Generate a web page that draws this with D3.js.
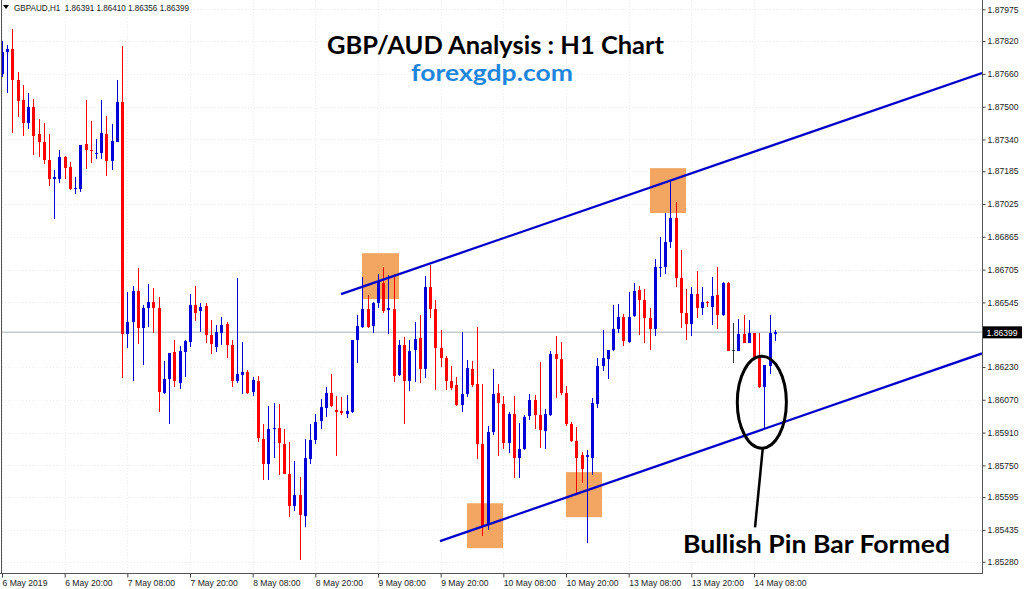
<!DOCTYPE html>
<html><head><meta charset="utf-8">
<script src="https://cdn.jsdelivr.net/npm/d3@7"></script>
<style>html,body{margin:0;padding:0;background:#fff;overflow:hidden}</style>
</head><body>
<svg id="c" width="1024" height="589"></svg>
<script>
// ---- data (GBPAUD H1, bar 0 = 6 May 2019 08:00) ----
const opens=[1.87659,1.87768,1.87781,1.87630,1.87532,1.87418,1.87499,1.87365,1.87327,1.87238,
1.87145,1.87148,1.87255,1.87206,1.87096,1.87096,1.87316,1.87291,1.87272,1.87272,
1.87368,1.87233,1.87329,1.87524,1.86390,1.86447,1.86600,1.86421,1.86516,1.86545,
1.86516,1.86101,1.86171,1.86302,1.86150,1.86301,1.86350,1.86532,1.86502,1.86527,
1.86385,1.86328,1.86396,1.86442,1.86336,1.86162,1.86193,1.86206,1.86106,1.86162,
1.85881,1.85759,1.85925,1.85933,1.85853,1.85707,1.85551,1.85603,1.85502,1.85780,
1.85873,1.85967,1.86032,1.86101,1.86019,1.86013,1.86003,1.86011,1.86361,1.86423,
1.86511,1.86429,1.86543,1.86640,1.86507,1.86511,1.86190,1.86336,1.86162,1.86315,
1.86369,1.86219,1.86621,1.86511,1.86325,1.86274,1.86162,1.86140,1.86044,1.86097,
1.86221,1.86146,1.85852,1.85458,1.85913,1.86101,1.86049,1.85860,1.86003,1.85788,
1.85832,1.85990,1.86071,1.85995,1.85918,1.85995,1.86291,1.86267,1.86104,1.85951,
1.85869,1.85800,1.85791,1.85786,1.86049,1.86234,1.86267,1.86312,1.86413,1.86472,
1.86353,1.86479,1.86605,1.86556,1.86467,1.86413,1.86712,1.86716,1.86838,1.86958,
1.86665,1.86491,1.86442,1.86585,1.86520,1.86545,1.86523,1.86580,1.86483,1.86638,
1.86312,1.86309,1.86390,1.86348,1.86398,1.86279,1.86133,1.86234,1.86391];
const highs=[1.87821,1.87800,1.87877,1.87667,1.87604,1.87565,1.87535,1.87438,1.87418,1.87365,
1.87189,1.87291,1.87259,1.87229,1.87158,1.87312,1.87532,1.87430,1.87343,1.87532,
1.87454,1.87413,1.87630,1.87796,1.86595,1.86624,1.86712,1.86532,1.86634,1.86613,
1.86572,1.86260,1.86299,1.86362,1.86332,1.86361,1.86585,1.86624,1.86540,1.86540,
1.86458,1.86434,1.86475,1.86450,1.86361,1.86662,1.86353,1.86214,1.86179,1.86185,
1.85951,1.86039,1.86052,1.86049,1.85925,1.85862,1.85772,1.85691,1.85881,1.85954,
1.86003,1.86076,1.86133,1.86198,1.86088,1.86084,1.86092,1.86364,1.86483,1.86667,
1.86580,1.86548,1.86686,1.86719,1.86678,1.86686,1.86361,1.86374,1.86364,1.86449,
1.86483,1.86673,1.86727,1.86559,1.86410,1.86283,1.86234,1.86182,1.86401,1.86263,
1.86260,1.86426,1.86146,1.85941,1.86219,1.86146,1.86088,1.86011,1.86088,1.85959,
1.85995,1.86096,1.86092,1.86255,1.86023,1.86307,1.86380,1.86353,1.86136,1.85962,
1.85938,1.85816,1.85824,1.86081,1.86272,1.86410,1.86315,1.86532,1.86537,1.86488,
1.86597,1.86638,1.86624,1.86608,1.86516,1.86755,1.86862,1.86979,1.87138,1.87036,
1.86803,1.86608,1.86621,1.86699,1.86621,1.86553,1.86667,1.86719,1.86645,1.86645,
1.86445,1.86462,1.86483,1.86458,1.86398,1.86394,1.86239,1.86486,1.86410];
const lows=[1.87646,1.87568,1.87372,1.87451,1.87358,1.87392,1.87265,1.87255,1.87220,1.87112,
1.86950,1.87128,1.87148,1.87093,1.87073,1.87086,1.87197,1.87226,1.87243,1.87246,
1.87161,1.87189,1.87329,1.86177,1.86325,1.86162,1.86341,1.86242,1.86426,1.86394,
1.86011,1.86097,1.85951,1.86133,1.86123,1.86179,1.86328,1.86455,1.86400,1.86348,
1.86291,1.86304,1.86338,1.86272,1.86133,1.86152,1.86097,1.86097,1.86088,1.85865,
1.85678,1.85681,1.85784,1.85702,1.85707,1.85499,1.85528,1.85287,1.85447,1.85756,
1.85853,1.85927,1.85984,1.86035,1.85795,1.85995,1.85979,1.86006,1.86250,1.86421,
1.86418,1.86396,1.86516,1.86491,1.86389,1.86157,1.86185,1.85951,1.86113,1.86157,
1.86150,1.86177,1.86467,1.86117,1.86231,1.86117,1.86117,1.86039,1.86011,1.86084,
1.86130,1.85779,1.85404,1.85437,1.85897,1.85795,1.85832,1.85808,1.85686,1.85686,
1.85824,1.85970,1.85925,1.85837,1.85832,1.85990,1.86081,1.86092,1.85941,1.85865,
1.85613,1.85664,1.85369,1.85702,1.86032,1.86211,1.86169,1.86309,1.86396,1.86333,
1.86348,1.86475,1.86385,1.86348,1.86315,1.86380,1.86667,1.86686,1.86810,1.86621,
1.86418,1.86361,1.86382,1.86467,1.86483,1.86523,1.86434,1.86413,1.86478,1.86307,
1.86247,1.86307,1.86345,1.86345,1.86272,1.86125,1.85930,1.86198,1.86356];
const closes=[1.87768,1.87781,1.87630,1.87527,1.87418,1.87499,1.87358,1.87327,1.87238,1.87145,
1.87155,1.87255,1.87202,1.87096,1.87101,1.87312,1.87288,1.87285,1.87275,1.87370,
1.87234,1.87332,1.87524,1.86390,1.86449,1.86601,1.86421,1.86516,1.86545,1.86518,
1.86106,1.86172,1.86299,1.86161,1.86307,1.86355,1.86532,1.86491,1.86522,1.86384,
1.86341,1.86401,1.86437,1.86335,1.86162,1.86195,1.86206,1.86101,1.86166,1.85884,
1.85759,1.85927,1.85933,1.85857,1.85710,1.85551,1.85604,1.85508,1.85786,1.85876,
1.85962,1.86035,1.86101,1.86040,1.86011,1.86006,1.86016,1.86364,1.86429,1.86511,
1.86426,1.86540,1.86645,1.86502,1.86516,1.86185,1.86336,1.86162,1.86309,1.86366,
1.86219,1.86621,1.86511,1.86325,1.86274,1.86162,1.86128,1.86044,1.86097,1.86226,
1.86141,1.85852,1.85450,1.85913,1.86096,1.86052,1.85860,1.86000,1.85788,1.85832,
1.85987,1.86071,1.85995,1.85922,1.86000,1.86291,1.86267,1.86104,1.85951,1.85869,
1.85784,1.85730,1.85800,1.86055,1.86237,1.86272,1.86315,1.86413,1.86472,1.86357,
1.86475,1.86601,1.86556,1.86467,1.86413,1.86719,1.86719,1.86838,1.86958,1.86665,
1.86491,1.86442,1.86584,1.86520,1.86548,1.86540,1.86576,1.86483,1.86638,1.86307,
1.86312,1.86390,1.86348,1.86398,1.86279,1.86133,1.86239,1.86396,1.86399];

const xTickIdx=[0,12,24,36,48,60,72,84,96,108,120,132,144];
const xTickLabels=["6 May 2019","6 May 20:00","7 May 08:00","7 May 20:00","8 May 08:00","8 May 20:00",
  "9 May 08:00","9 May 20:00","10 May 08:00","10 May 20:00","13 May 08:00","13 May 20:00","14 May 08:00"];
const yTicks=[1.87975,1.87820,1.87660,1.87500,1.87340,1.87185,1.87025,1.86865,1.86705,1.86545,
  1.86230,1.86070,1.85910,1.85750,1.85595,1.85435,1.85280];
const lastPrice=1.86399;
const headerText="GBPAUD,H1  1.86391 1.86410 1.86356 1.86399";
const titleText="GBP/AUD Analysis : H1 Chart";
const siteText="forexgdp.com";
const noteText="Bullish Pin Bar Formed";
// trend lines: [barIndex, price] pairs
const upperLine=[[64.92,1.86585],[187.66,1.87664]];
const lowerLine=[[83.87,1.85380],[187.66,1.86296]];
// highlight boxes: [fromBar, toBar, topPrice, bottomPrice]
const boxes=[[68.94,76.02,1.86785,1.86561],[124.09,130.98,1.87200,1.86981],
  [89.04,95.94,1.85565,1.85346],[108.0,114.9,1.85717,1.85497]];
// ellipse around pin bar: [centerBar, centerPrice, halfWidthBars, halfHeightPrice]
const pinEllipse=[145.5,1.86058,4.7,0.00224];
const pointer=[[145.7,1.85839],[144.2,1.85448]];

// ---- drawing ----
const svg=d3.select("#c");
const plotL=1.5, plotR=982, plotT=0, plotB=573;
const x=d3.scaleLinear().domain([0,144]).range([2,754]);
const y=d3.scaleLinear().domain([1.85280,1.87975]).range([561.7,9.3]);
const axisFont="'Liberation Sans', Arial, sans-serif";

svg.append("rect").attr("width",1024).attr("height",589).attr("fill","#fff");

svg.append("clipPath").attr("id","pc").append("rect")
  .attr("x",plotL).attr("y",plotT).attr("width",plotR-plotL).attr("height",plotB-plotT);

// faint grid
const grid=svg.append("g").attr("stroke","#ececec").attr("stroke-dasharray","1,2").attr("shape-rendering","crispEdges");
grid.selectAll("line.h").data(yTicks).join("line").attr("class","h")
  .attr("x1",plotL).attr("x2",plotR).attr("y1",d=>Math.round(y(d))+0.5).attr("y2",d=>Math.round(y(d))+0.5);
grid.selectAll("line.v").data(xTickIdx).join("line").attr("class","v")
  .attr("y1",plotT).attr("y2",plotB).attr("x1",d=>Math.round(x(d))+0.5).attr("x2",d=>Math.round(x(d))+0.5);

const plot=svg.append("g").attr("clip-path","url(#pc)");

// boxes
plot.selectAll("rect.box").data(boxes).join("rect").attr("class","box")
  .attr("x",d=>x(d[0])).attr("width",d=>x(d[1])-x(d[0]))
  .attr("y",d=>y(d[2])).attr("height",d=>y(d[3])-y(d[2]))
  .attr("fill","#f3a562");

// current price line
plot.append("line").attr("x1",plotL).attr("x2",plotR)
  .attr("y1",y(lastPrice)).attr("y2",y(lastPrice))
  .attr("stroke","#c4ccd2").attr("stroke-width",1.5);

// candles
const bars=d3.range(opens.length).map(i=>({i,o:opens[i],h:highs[i],l:lows[i],c:closes[i]}));
const col=d=>d.c>d.o?"#0000d8":(d.c<d.o?"#ff0000":"#333333");
const cg=plot.append("g").attr("shape-rendering","crispEdges");
cg.selectAll("line.wick").data(bars).join("line").attr("class","wick")
  .attr("x1",d=>Math.round(x(d.i))+0.5).attr("x2",d=>Math.round(x(d.i))+0.5)
  .attr("y1",d=>y(d.h)).attr("y2",d=>y(d.l)).attr("stroke",col).attr("stroke-width",1);
cg.selectAll("rect.body").data(bars).join("rect").attr("class","body")
  .attr("x",d=>Math.round(x(d.i))-1).attr("width",3)
  .attr("y",d=>y(Math.max(d.o,d.c)))
  .attr("height",d=>Math.max(1,Math.abs(y(d.o)-y(d.c))))
  .attr("fill",col);

// trend lines
const lineGen=d3.line().x(d=>x(d[0])).y(d=>y(d[1]));
plot.selectAll("path.trend").data([upperLine,lowerLine]).join("path").attr("class","trend")
  .attr("d",lineGen).attr("fill","none").attr("stroke","#0000cc").attr("stroke-width",2.3);

// ellipse + pointer
svg.append("ellipse").attr("cx",x(pinEllipse[0])).attr("cy",y(pinEllipse[1]))
  .attr("rx",x(pinEllipse[0]+pinEllipse[2])-x(pinEllipse[0]))
  .attr("ry",y(pinEllipse[1]-pinEllipse[3])-y(pinEllipse[1]))
  .attr("fill","none").attr("stroke","#000").attr("stroke-width",3);
svg.append("path").attr("d",lineGen(pointer)).attr("stroke","#000").attr("stroke-width",2.5).attr("fill","none");

// frame
const frame=svg.append("g").attr("stroke","#555").attr("shape-rendering","crispEdges");
frame.append("line").attr("x1",1.5).attr("x2",1.5).attr("y1",0).attr("y2",plotB);
frame.append("line").attr("x1",plotR+0.5).attr("x2",plotR+0.5).attr("y1",0).attr("y2",plotB);
frame.append("line").attr("x1",0).attr("x2",plotR+1).attr("y1",plotB+0.5).attr("y2",plotB+0.5);

// right axis
const ya=svg.append("g").attr("transform",`translate(${plotR+0.5},0)`)
  .call(d3.axisRight(y).tickValues(yTicks).tickSize(3).tickSizeOuter(0).tickPadding(2).tickFormat(d3.format(".5f")));
ya.select(".domain").remove();
ya.selectAll("line").attr("stroke","#444");
ya.selectAll("text").attr("font-family",axisFont).attr("font-size",8.6).attr("fill","#222")
  .attr("textLength",31).attr("lengthAdjust","spacingAndGlyphs");

// bottom axis
const xa=svg.append("g").attr("transform",`translate(0,${plotB+0.5})`)
  .call(d3.axisBottom(x).tickValues(xTickIdx).tickSize(4).tickSizeOuter(0).tickPadding(2).tickFormat((d,i)=>xTickLabels[i]));
xa.select(".domain").remove();
xa.selectAll("line").attr("stroke","#444");
xa.selectAll("text").attr("font-family",axisFont).attr("font-size",8.6).attr("fill","#222")
  .attr("text-anchor","start").attr("dx",0);

// price label
const pl=svg.append("g").attr("transform",`translate(${plotR+1},${y(lastPrice)})`);
pl.append("rect").attr("x",0).attr("y",-6).attr("width",39).attr("height",12).attr("fill","#000");
pl.append("text").attr("x",3.5).attr("y",3.2).attr("fill","#fff").attr("font-family",axisFont)
  .attr("font-size",8.6).attr("textLength",31).attr("lengthAdjust","spacingAndGlyphs").text(d3.format(".5f")(lastPrice));

// header
svg.append("path").attr("d","M3,5 L9,5 L6,9 Z").attr("fill","#000");
svg.append("text").attr("x",14).attr("y",11).attr("font-family",axisFont).attr("font-size",8.8)
  .attr("fill","#222").attr("textLength",175).attr("lengthAdjust","spacingAndGlyphs")
  .style("white-space","pre").text(headerText);

// titles
const bigFont="Lato, 'Open Sans', sans-serif";
svg.append("text").attr("x",327).attr("y",54).attr("font-family",bigFont).attr("font-weight",700)
  .attr("font-size",25).attr("fill","#000").attr("textLength",337).attr("lengthAdjust","spacingAndGlyphs").text(titleText);
svg.append("text").attr("x",411).attr("y",81).attr("font-family",bigFont).attr("font-weight",700)
  .attr("font-size",23).attr("fill","#1e86dc").attr("textLength",162).attr("lengthAdjust","spacingAndGlyphs").text(siteText);
svg.append("text").attr("x",683).attr("y",553).attr("font-family",bigFont).attr("font-weight",700)
  .attr("font-size",25).attr("fill","#000").attr("textLength",267).attr("lengthAdjust","spacingAndGlyphs").text(noteText);
</script>
</body></html>
